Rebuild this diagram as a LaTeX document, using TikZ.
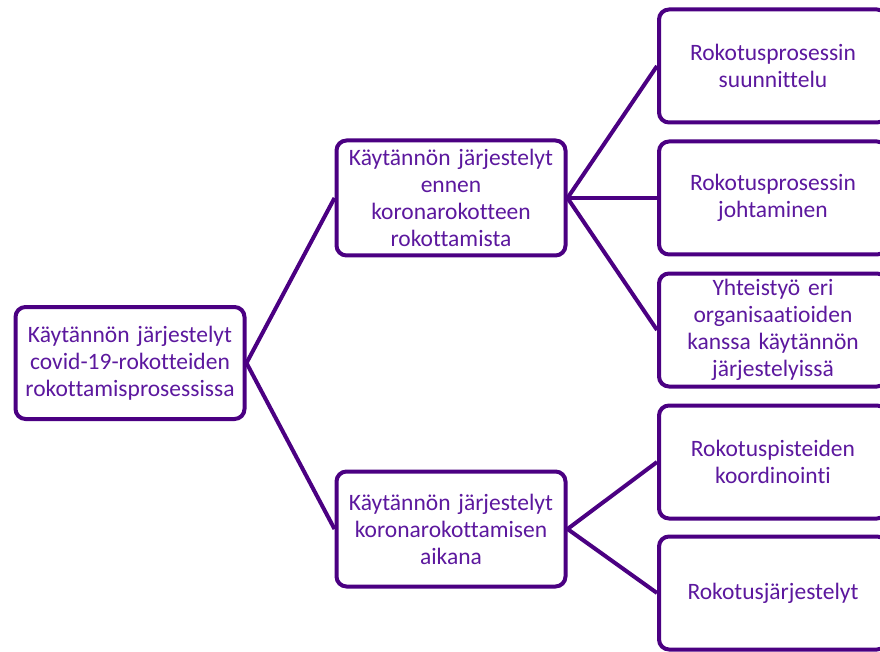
\documentclass[tikz,border=0pt]{standalone}
\usepackage{fontspec}
\setmainfont[Ligatures={NoCommon}]{Carlito}
\usetikzlibrary{positioning}
\definecolor{reunus}{RGB}{75,0,130}
\definecolor{teksti}{RGB}{92,24,158}
\tikzset{
  laatikko/.style={draw=reunus, line width=4pt, rounded corners=10pt, fill=white,
    text=teksti, align=center, inner sep=2pt,
    font=\fontsize{23.5}{27}\selectfont},
  juuri/.style={laatikko, minimum width=229pt, minimum height=112pt, text width=225pt},
  vali/.style={laatikko, minimum width=229pt, minimum height=115pt, text width=225pt},
  lehti/.style={laatikko, minimum width=228pt, minimum height=113pt, text width=224pt},
  viiva/.style={draw=reunus, line width=4pt}
}
\begin{document}
\begin{tikzpicture}[x=1pt,y=-1pt]
    		%rajaus
    		\clip (0,0) rectangle (880,652);
    		\fill[white] (0,0) rectangle (880,652);
  		%%%% LAATIKOT
  		\node[juuri] at (130,363) (paa) {Käytännön järjestelyt\\covid-19-rokotteiden\\rokottamisprosessissa};
  		\node[vali] at (451,198) (ennen) {Käytännön järjestelyt\\ennen\\koronarokotteen\\rokottamista};
  		\node[vali] at (451,529) (aikana) {Käytännön järjestelyt\\koronarokottamisen\\aikana};
  		%oikea sarake
  		\node[lehti] at (773,66) (suunn) {Rokotusprosessin\\suunnittelu};
  		\node[lehti] at (773,198) (johto) {Rokotusprosessin\\johtaminen};
  		\node[lehti] at (773,330) (yhteis) {Yhteistyö eri\\organisaatioiden\\kanssa käytännön\\järjestelyissä};
  		\node[lehti] at (773,462) (pisteet) {Rokotuspisteiden\\koordinointi};
  		\node[lehti] at (773,593) (jarj) {Rokotusjärjestelyt};
  		%%%% VIIVAT
  		\draw[viiva] (paa.east) -- (ennen.west);
  		\draw[viiva] (paa.east) -- (aikana.west);
  		\draw[viiva] (ennen.east) -- (suunn.west);
  		\draw[viiva] (ennen.east) -- (johto.west);
  		\draw[viiva] (ennen.east) -- (yhteis.west);
  		\draw[viiva] (aikana.east) -- (pisteet.west);
  		\draw[viiva] (aikana.east) -- (jarj.west);
	\end{tikzpicture}
\end{document}
